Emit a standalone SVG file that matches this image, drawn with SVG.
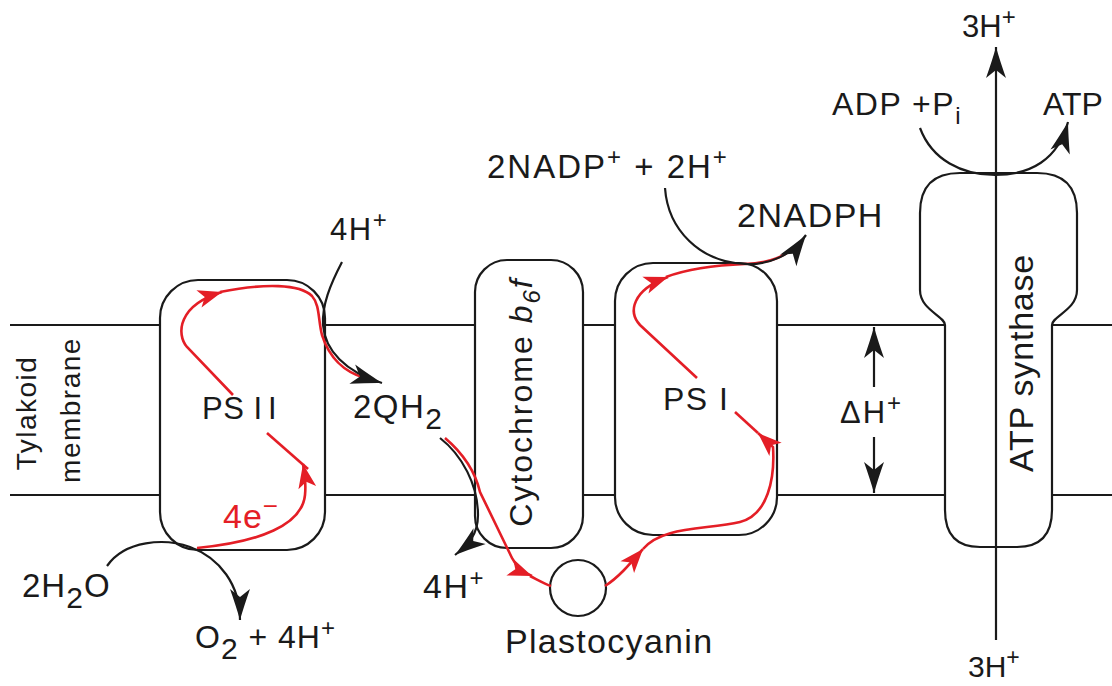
<svg xmlns="http://www.w3.org/2000/svg" width="1112" height="686" viewBox="0 0 1112 686">
<style>
.t{font-family:"Liberation Sans",Arial,Helvetica,sans-serif;fill:#1a1a1a;}
.box{fill:#fff;stroke:#1a1a1a;stroke-width:2.2;}
.mem{stroke:#1a1a1a;stroke-width:2;fill:none;}
.blk{fill:none;stroke:#1a1a1a;stroke-width:2.2;}
.red{fill:none;stroke:#e41e26;stroke-width:2.6;}
</style>
<defs>
<marker id="ab" viewBox="-34 -12 36 24" refX="0" refY="0" markerWidth="36" markerHeight="24" markerUnits="userSpaceOnUse" orient="auto">
<path d="M0,0 Q-14,-4 -31,-10 L-23,0 L-31,10 Q-14,4 0,0 Z" fill="#1a1a1a"/>
</marker>
<marker id="ar" viewBox="-26 -11 28 22" refX="0" refY="0" markerWidth="28" markerHeight="22" markerUnits="userSpaceOnUse" orient="auto">
<path d="M0,0 L-24,-9 L-18,0 L-24,9 Z" fill="#e41e26"/>
</marker>
</defs>
<rect width="1112" height="686" fill="#fff"/>
<g id="membrane">
<line class="mem" x1="10" y1="325" x2="1112" y2="325"/>
<line class="mem" x1="10" y1="495" x2="1112" y2="495"/>
<text class="t" font-size="28" letter-spacing="1.5" text-anchor="middle" transform="translate(36,413) rotate(-90)">Tylakoid</text>
<text class="t" font-size="28" letter-spacing="1.5" text-anchor="middle" transform="translate(80,410) rotate(-90)">membrane</text>
</g>
<g id="psii">
<rect class="box" x="160" y="280" width="165" height="270" rx="38"/>
<text class="t" x="202" y="419" font-size="31" letter-spacing="0.5">PS <tspan letter-spacing="6">II</tspan></text>
</g>
<g id="cytochrome">
<rect class="box" x="475" y="260" width="108" height="288" rx="32"/>
<text class="t" font-size="32" letter-spacing="2" text-anchor="middle" transform="translate(532,402) rotate(-90)">Cytochrome <tspan font-style="italic">b</tspan><tspan font-style="italic" font-size="24" dy="8">6</tspan><tspan font-style="italic" dy="-8">f</tspan></text>
</g>
<g id="psi">
<rect class="box" x="615" y="263" width="162" height="272" rx="38"/>
<text class="t" x="663" y="410" font-size="32" letter-spacing="1.5">PS I</text>
</g>
<g id="plastocyanin">
<circle class="box" cx="578" cy="588" r="28"/>
<text class="t" x="505" y="653" font-size="34" letter-spacing="1.3">Plastocyanin</text>
</g>
<g id="atp-synthase">
<path class="box" d="M945,325 C945,316 920,310 920,290 L920,213 Q920,173 960,173 L1037,173 Q1077,173 1077,213 L1077,290 C1077,310 1052,316 1052,325 L1052,510 Q1052,547 1017,547 L980,547 Q945,547 945,510 Z"/>
<text class="t" font-size="34" letter-spacing="0.8" text-anchor="middle" transform="translate(1033,363) rotate(-90)">ATP synthase</text>
</g>
<g id="connectors">
<path class="red" d="M233,395 L187,347 C176,334 178,305 222,292" marker-end="url(#ar)"/>
<path class="red" d="M220,292 C265,283 300,284 312,296 C320,305 318,320 322,335 C330,360 345,372 365,378"/>
<path class="red" d="M197,548 C260,542 302,525 305,495 C306,485 305,475 303,464" marker-end="url(#ar)"/>
<path class="red" d="M308,469 L267,433"/>
<path class="red" d="M445,438 C465,455 476,475 480,492 L512,558 C516,566 522,572 532,576" marker-end="url(#ar)"/>
<path class="red" d="M530,576 C538,580 545,584 551,586"/>
<path class="red" d="M605,586 C618,578 630,564 643,549" marker-end="url(#ar)"/>
<path class="red" d="M643,549 C662,526 705,530 740,522 C768,515 775,478 773,447 L758,433" marker-end="url(#ar)"/>
<path class="red" d="M758,433 L735,412"/>
<path class="red" d="M697,378 L640,325 C628,312 632,290 668,277" marker-end="url(#ar)"/>
<path class="red" d="M666,277 C690,268 720,265 745,264 C770,263 785,257 798,244"/>
<path class="blk" d="M342,262 C330,285 322,305 323,325 C325,350 345,372 382,383" marker-end="url(#ab)"/>
<path class="blk" d="M107,566 C125,540 165,538 190,547 C220,558 240,585 240,620" marker-end="url(#ab)"/>
<path class="blk" d="M440,438 C462,455 478,485 478,515 C478,535 468,545 455,555" marker-end="url(#ab)"/>
<path class="blk" d="M665,188 C668,230 700,262 745,264 C770,265 792,255 806,235" marker-end="url(#ab)"/>
<path class="blk" d="M920,128 C932,160 962,175 995,175 C1030,175 1058,160 1068,122" marker-end="url(#ab)"/>
<path class="blk" d="M996,640 L996,47" marker-end="url(#ab)"/>
<path class="blk" d="M874,387 L874,327" marker-end="url(#ab)"/>
<path class="blk" d="M874,437 L874,493" marker-end="url(#ab)"/>
</g>
<g id="labels">
<text class="t" x="962" y="37" font-size="31">3H<tspan dy="-12" font-size="24">+</tspan></text>
<text class="t" x="968" y="677" font-size="30">3H<tspan dy="-12" font-size="23">+</tspan></text>
<text class="t" x="832" y="115" font-size="32" letter-spacing="1.5">ADP +P<tspan dy="9" font-size="24">i</tspan></text>
<text class="t" x="1043" y="115" font-size="32">ATP</text>
<text class="t" x="487" y="178" font-size="33" letter-spacing="2">2NADP<tspan dy="-13" font-size="24">+</tspan><tspan dy="13"> + 2H</tspan><tspan dy="-13" font-size="24">+</tspan></text>
<text class="t" x="737" y="227" font-size="34" letter-spacing="1.5">2NADPH</text>
<text class="t" x="330" y="240" font-size="31" letter-spacing="1.5">4H<tspan dy="-12" font-size="24">+</tspan></text>
<text class="t" x="353" y="418" font-size="33" letter-spacing="1.5">2QH<tspan dy="11" font-size="30">2</tspan></text>
<text class="t" x="840" y="423" font-size="31" letter-spacing="2">ΔH<tspan dy="-12" font-size="24">+</tspan></text>
<text class="t" x="223" y="528" font-size="34" letter-spacing="1" style="fill:#e41e26">4e<tspan dy="-13" font-size="26">−</tspan></text>
<text class="t" x="22" y="597" font-size="33" letter-spacing="1">2H<tspan dy="11" font-size="30">2</tspan><tspan dy="-11">O</tspan></text>
<text class="t" x="195" y="648" font-size="32" letter-spacing="1">O<tspan dy="11" font-size="30">2</tspan><tspan dy="-11"> + 4H</tspan><tspan dy="-12" font-size="24">+</tspan></text>
<text class="t" x="423" y="598" font-size="34" letter-spacing="1.5">4H<tspan dy="-12" font-size="24">+</tspan></text>
</g>
</svg>
